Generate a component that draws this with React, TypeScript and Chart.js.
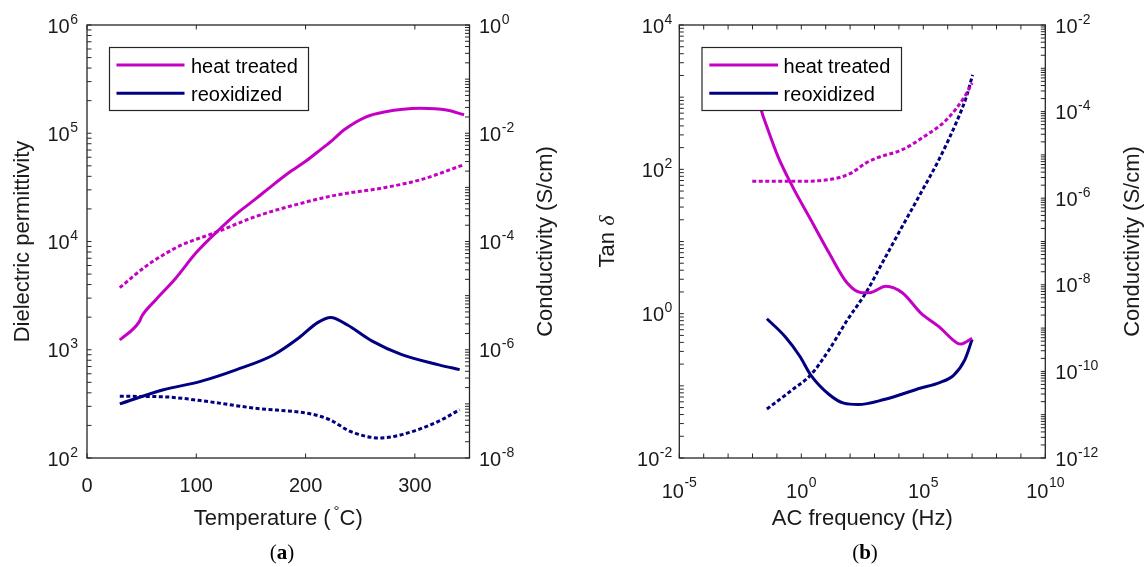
import React, { useEffect, useRef } from "react";
import { Chart, registerables } from "chart.js";

Chart.register(...registerables);

const FONT = '"Liberation Sans", Arial, Helvetica, sans-serif';
const SERIF = '"Liberation Serif", "Times New Roman", serif';
const AXIS = "#262626";
const TEXT = "#1a1a1a";
const MAGENTA = "#C400C4";
const NAVY = "#000080";
const TICK = 4.5;

// ---------- Panel (a): temperature dependence ----------
const tempHeatEps = [30, 48, 50, 63, 80, 100, 121, 137, 154, 168, 184, 201, 214, 225, 235, 255, 272, 305, 329, 345];
const heatEps = [1230, 1830, 2030, 2900, 4430, 7900, 12900, 18100, 24600, 32000, 42700, 56000, 71000, 87000, 107000, 141000, 157000, 170000, 164000, 148000];
const tempHeatSig = [30, 53, 70, 87, 117, 154, 201, 228, 271, 305, 345];
const heatSig = [1.4e-5, 3.39e-5, 5.7e-5, 8.7e-5, 1.45e-4, 2.88e-4, 5.4e-4, 7.2e-4, 9.8e-4, 1.38e-3, 2.63e-3];
const tempReoxEps = [30, 70, 104, 137, 171, 194, 211, 223, 238, 261, 288, 322, 341];
const reoxEps = [316, 427, 510, 655, 900, 1290, 1780, 1990, 1700, 1200, 900, 725, 655];
const tempReoxSig = [30, 70, 104, 154, 205, 222, 241, 268, 288, 322, 341];
const reoxSig = [1.38e-7, 1.35e-7, 1.15e-7, 8.3e-8, 6.5e-8, 5.1e-8, 3.1e-8, 2.34e-8, 2.7e-8, 4.8e-8, 7.8e-8];

// ---------- Panel (b): frequency dependence ----------
const freqHeatTan = [0.0178, 0.0229, 0.0389, 0.11, 0.437, 2.45, 13.8, 77.6, 309, 617, 2951, 13800, 79400, 436500, 2.51e6, 3.55e6, 1e7];
const heatTan = [1000, 661, 389, 151, 57.5, 20.0, 6.92, 2.63, 1.95, 1.95, 2.4, 1.95, 1.02, 0.661, 0.389, 0.38, 0.457];
const freqHeatSig = [0.00977, 0.437, 13.8, 110, 437, 1230, 13800, 112200, 891000, 5.01e6, 1e7];
const heatSigF = [2.45e-6, 2.45e-6, 2.69e-6, 3.8e-6, 6.46e-6, 8.5e-6, 1.32e-5, 2.69e-5, 6.46e-5, 2.24e-4, 4.57e-4];
const freqReoxTan = [0.0389, 0.219, 0.871, 2.45, 13.8, 55.0, 219, 2455, 79400, 436500, 1.78e6, 5.01e6, 1e7];
const reoxTan = [0.851, 0.479, 0.257, 0.141, 0.0759, 0.0575, 0.055, 0.0646, 0.0933, 0.11, 0.141, 0.229, 0.437];
const freqReoxSig = [0.0389, 0.437, 2.45, 13.8, 77.6, 437, 2455, 13800, 79400, 436500, 2.51e6, 5.89e6, 1.05e7];
const reoxSigF = [1.35e-11, 3.8e-11, 8.32e-11, 3.16e-10, 1.55e-9, 6.46e-9, 3.8e-8, 2.24e-7, 1.32e-6, 7.76e-6, 6.46e-5, 2.24e-4, 7.08e-4];

// ---------- ticks / labels ----------
const legendLabels = ["heat treated", "reoxidized"];
const xTicksA = [0, 100, 200, 300];
const xLabelsA = ["0", "100", "200", "300"];
const yExpA = [2, 3, 4, 5, 6];
const y2ExpA = [-8, -6, -4, -2, 0];
const xExpB = [-5, 0, 5, 10];
const yExpB = [-2, 0, 2, 4];
const y2ExpB = [-12, -10, -8, -6, -4, -2];

const toPts = (xs: number[], ys: number[]) => xs.map((x, i) => ({ x, y: ys[i] }));

function line(ctx: CanvasRenderingContext2D, x1: number, y1: number, x2: number, y2: number) {
  ctx.beginPath();
  ctx.moveTo(x1, y1);
  ctx.lineTo(x2, y2);
  ctx.stroke();
}

function logTicks(ctx: CanvasRenderingContext2D, scale: any, minE: number, maxE: number, xEdge: number, dir: number) {
  for (let e = minE; e <= maxE; e++) {
    for (let m = 1; m <= 9; m++) {
      if (e === maxE && m > 1) break;
      const y = scale.getPixelForValue(m * Math.pow(10, e));
      line(ctx, xEdge, y, xEdge + dir * TICK, y);
    }
  }
}

function powLabel(ctx: CanvasRenderingContext2D, exp: string, x: number, baseline: number, align: string, expRaise = 9) {
  ctx.font = `20px ${FONT}`;
  const wb = ctx.measureText("10").width;
  ctx.font = `14px ${FONT}`;
  const we = ctx.measureText(exp).width;
  const total = wb + we + 0.5;
  const x0 = align === "left" ? x : align === "right" ? x - total : x - total / 2;
  ctx.textAlign = "left";
  ctx.textBaseline = "alphabetic";
  ctx.font = `20px ${FONT}`;
  ctx.fillText("10", x0, baseline);
  ctx.font = `14px ${FONT}`;
  ctx.fillText(exp, x0 + wb + 0.5, baseline - expRaise);
}

function vTitle(ctx: CanvasRenderingContext2D, parts: { t: string; f: string }[], cx: number, cy: number) {
  ctx.save();
  ctx.translate(cx, cy);
  ctx.rotate(-Math.PI / 2);
  let total = 0;
  parts.forEach((p) => {
    ctx.font = p.f;
    total += ctx.measureText(p.t).width;
  });
  let x = -total / 2;
  ctx.textAlign = "left";
  ctx.textBaseline = "middle";
  parts.forEach((p) => {
    ctx.font = p.f;
    ctx.fillText(p.t, x, 0);
    x += ctx.measureText(p.t).width;
  });
  ctx.restore();
}

function drawLegend(ctx: CanvasRenderingContext2D, left: number, top: number, w: number, h: number, l1: number, l2: number, tx: number) {
  ctx.save();
  ctx.fillStyle = "#ffffff";
  ctx.fillRect(left, top, w, h);
  ctx.strokeStyle = AXIS;
  ctx.lineWidth = 1.2;
  ctx.strokeRect(left, top, w, h);
  const rows = [65, 93.3];
  const cols = [MAGENTA, NAVY];
  rows.forEach((y, i) => {
    ctx.strokeStyle = cols[i];
    ctx.lineWidth = 3;
    line(ctx, l1, y, l2, y);
    ctx.fillStyle = "#000";
    ctx.font = `20px ${FONT}`;
    ctx.textAlign = "left";
    ctx.textBaseline = "alphabetic";
    ctx.fillText(legendLabels[i], tx, y + 8);
  });
  ctx.restore();
}

function caption(ctx: CanvasRenderingContext2D, letter: string, cx: number, baseline: number) {
  ctx.textBaseline = "alphabetic";
  ctx.textAlign = "left";
  ctx.font = `21px ${SERIF}`;
  const wp = ctx.measureText("(").width;
  const wq = ctx.measureText(")").width;
  ctx.font = `bold 21px ${SERIF}`;
  const wl = ctx.measureText(letter).width;
  let x = cx - (wp + wl + wq) / 2;
  ctx.font = `21px ${SERIF}`;
  ctx.fillText("(", x, baseline);
  x += wp;
  ctx.font = `bold 21px ${SERIF}`;
  ctx.fillText(letter, x, baseline);
  x += wl;
  ctx.font = `21px ${SERIF}`;
  ctx.fillText(")", x, baseline);
}

const panelAPlugin = {
  id: "panelA",
  afterDraw(chart: any) {
    const { ctx, chartArea: a } = chart;
    const sx = chart.scales.x;
    const sy = chart.scales.y;
    const sy2 = chart.scales.y2;
    ctx.save();
    ctx.strokeStyle = AXIS;
    ctx.lineWidth = 1.3;
    ctx.strokeRect(a.left, a.top, a.right - a.left, a.bottom - a.top);
    ctx.lineWidth = 1;
    xTicksA.forEach((v) => {
      const x = sx.getPixelForValue(v);
      line(ctx, x, a.bottom, x, a.bottom - TICK);
      line(ctx, x, a.top, x, a.top + TICK);
    });
    logTicks(ctx, sy, 2, 6, a.left, 1);
    logTicks(ctx, sy2, -8, 0, a.right, -1);

    ctx.fillStyle = TEXT;
    ctx.font = `20px ${FONT}`;
    ctx.textAlign = "center";
    ctx.textBaseline = "alphabetic";
    xTicksA.forEach((v, i) => ctx.fillText(xLabelsA[i], sx.getPixelForValue(v), 491.5));
    yExpA.forEach((e) => powLabel(ctx, String(e), a.left - 9, sy.getPixelForValue(Math.pow(10, e)) + 7.5, "right"));
    y2ExpA.forEach((e) => powLabel(ctx, String(e), a.right + 9.5, sy2.getPixelForValue(Math.pow(10, e)) + 7.5, "left"));

    // x title with superscript degree
    const cx = (a.left + a.right) / 2;
    ctx.font = `22px ${FONT}`;
    const p1 = "Temperature (";
    const p2 = "C)";
    const w1 = ctx.measureText(p1).width;
    const w2 = ctx.measureText(p2).width;
    ctx.font = `15px ${FONT}`;
    const wd = ctx.measureText("\u00B0").width;
    let x = cx - (w1 + 3 + wd + w2) / 2;
    ctx.textAlign = "left";
    ctx.font = `22px ${FONT}`;
    ctx.fillText(p1, x, 525);
    x += w1 + 3;
    ctx.font = `15px ${FONT}`;
    ctx.fillText("\u00B0", x, 516);
    x += wd;
    ctx.font = `22px ${FONT}`;
    ctx.fillText(p2, x, 525);

    vTitle(ctx, [{ t: "Dielectric permittivity", f: `22px ${FONT}` }], 23, (a.top + a.bottom) / 2);
    vTitle(ctx, [{ t: "Conductivity (S/cm)", f: `22px ${FONT}` }], 546, (a.top + a.bottom) / 2);

    drawLegend(ctx, 109.5, 47.5, 199, 63, 116.5, 184.5, 191);
    ctx.fillStyle = "#000";
    caption(ctx, "a", 282, 559);
    ctx.restore();
  },
};

const panelBPlugin = {
  id: "panelB",
  afterDraw(chart: any) {
    const { ctx, chartArea: a } = chart;
    const sx = chart.scales.x;
    const sy = chart.scales.y;
    const sy2 = chart.scales.y2;
    ctx.save();
    ctx.strokeStyle = AXIS;
    ctx.lineWidth = 1.3;
    ctx.strokeRect(a.left, a.top, a.right - a.left, a.bottom - a.top);
    ctx.lineWidth = 1;
    for (let e = -5; e <= 10; e++) {
      const x = sx.getPixelForValue(Math.pow(10, e));
      line(ctx, x, a.bottom, x, a.bottom - TICK);
      line(ctx, x, a.top, x, a.top + TICK);
    }
    logTicks(ctx, sy, -2, 4, a.left, 1);
    logTicks(ctx, sy2, -12, -2, a.right, -1);

    ctx.fillStyle = TEXT;
    xExpB.forEach((e) => powLabel(ctx, String(e), sx.getPixelForValue(Math.pow(10, e)), 498, "center", 11));
    yExpB.forEach((e) => powLabel(ctx, String(e), a.left - 7, sy.getPixelForValue(Math.pow(10, e)) + 7.5, "right"));
    y2ExpB.forEach((e) => powLabel(ctx, String(e), a.right + 10, sy2.getPixelForValue(Math.pow(10, e)) + 7.5, "left"));

    ctx.font = `22px ${FONT}`;
    ctx.textAlign = "center";
    ctx.textBaseline = "alphabetic";
    ctx.fillText("AC frequency (Hz)", (a.left + a.right) / 2, 525);

    vTitle(
      ctx,
      [
        { t: "Tan ", f: `22px ${FONT}` },
        { t: "\u03B4", f: `italic 22px ${SERIF}` },
      ],
      35,
      (a.top + a.bottom) / 2
    );
    vTitle(ctx, [{ t: "Conductivity (S/cm)", f: `22px ${FONT}` }], 559.5, (a.top + a.bottom) / 2);

    drawLegend(ctx, 129, 47.5, 199.5, 63, 136.3, 205, 210.6);
    ctx.fillStyle = "#000";
    caption(ctx, "b", 292, 559);
    ctx.restore();
  },
};

const solid = (color: string) => ({
  borderColor: color,
  borderWidth: 3,
  pointRadius: 0,
  fill: false,
  cubicInterpolationMode: "monotone" as const,
});
const dotted = (color: string) => ({
  borderColor: color,
  borderWidth: 3,
  borderDash: [4, 2.5],
  borderCapStyle: "butt" as const,
  pointRadius: 0,
  fill: false,
  cubicInterpolationMode: "monotone" as const,
});

const baseOptions = {
  animation: false as const,
  responsive: false,
  maintainAspectRatio: false,
  devicePixelRatio: 1,
  events: [] as any[],
  plugins: { legend: { display: false }, tooltip: { enabled: false } },
};

function configA(): any {
  return {
    type: "line",
    data: {
      datasets: [
        { label: "heat treated", data: toPts(tempHeatEps, heatEps), yAxisID: "y", ...solid(MAGENTA) },
        { label: "heat treated σ", data: toPts(tempHeatSig, heatSig), yAxisID: "y2", ...dotted(MAGENTA) },
        { label: "reoxidized", data: toPts(tempReoxEps, reoxEps), yAxisID: "y", ...solid(NAVY) },
        { label: "reoxidized σ", data: toPts(tempReoxSig, reoxSig), yAxisID: "y2", ...dotted(NAVY) },
      ],
    },
    options: {
      ...baseOptions,
      layout: { padding: { left: 87, right: 103.5, top: 25, bottom: 109 } },
      scales: {
        x: { type: "linear", min: 0, max: 350, display: false },
        y: { type: "logarithmic", min: 100, max: 1e6, display: false },
        y2: { type: "logarithmic", min: 1e-8, max: 1, display: false },
      },
    },
    plugins: [panelAPlugin],
  };
}

function configB(): any {
  return {
    type: "line",
    data: {
      datasets: [
        { label: "heat treated", data: toPts(freqHeatTan, heatTan), yAxisID: "y", ...solid(MAGENTA) },
        { label: "heat treated σ", data: toPts(freqHeatSig, heatSigF), yAxisID: "y2", ...dotted(MAGENTA) },
        { label: "reoxidized", data: toPts(freqReoxTan, reoxTan), yAxisID: "y", ...solid(NAVY) },
        { label: "reoxidized σ", data: toPts(freqReoxSig, reoxSigF), yAxisID: "y2", ...dotted(NAVY) },
      ],
    },
    options: {
      ...baseOptions,
      layout: { padding: { left: 106.3, right: 100.7, top: 25, bottom: 109 } },
      scales: {
        x: { type: "logarithmic", min: 1e-5, max: 1e10, display: false },
        y: { type: "logarithmic", min: 1e-2, max: 1e4, display: false },
        y2: { type: "logarithmic", min: 1e-12, max: 1e-2, display: false },
      },
    },
    plugins: [panelBPlugin],
  };
}

function Panel({ make, left }: { make: () => any; left: number }) {
  const ref = useRef<HTMLCanvasElement | null>(null);
  useEffect(() => {
    if (!ref.current) return;
    const chart = new Chart(ref.current, make());
    return () => chart.destroy();
  }, []);
  return (
    <canvas
      ref={ref}
      width={573}
      height={567}
      style={{ position: "absolute", left, top: 0, width: 573, height: 567, display: "block" }}
    />
  );
}

export default function App() {
  return (
    <div style={{ position: "absolute", left: 0, top: 0, width: 1146, height: 567, background: "#ffffff" }}>
      <Panel make={configA} left={0} />
      <Panel make={configB} left={573} />
    </div>
  );
}
